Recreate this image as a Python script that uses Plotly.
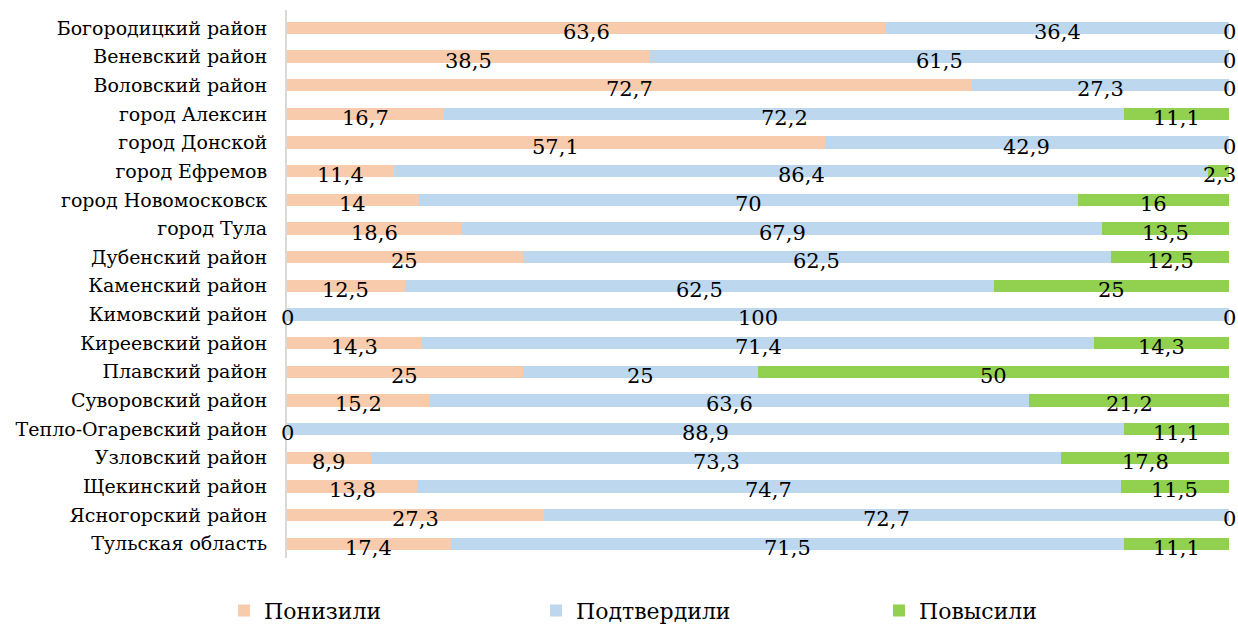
import plotly.graph_objects as go

# Доли решений по районам (%)
districts = [
    "Богородицкий район", "Веневский район", "Воловский район", "город Алексин",
    "город Донской", "город Ефремов", "город Новомосковск", "город Тула",
    "Дубенский район", "Каменский район", "Кимовский район", "Киреевский район",
    "Плавский район", "Суворовский район", "Тепло-Огаревский район",
    "Узловский район", "Щекинский район", "Ясногорский район", "Тульская область",
]
lowered = [63.6, 38.5, 72.7, 16.7, 57.1, 11.4, 14, 18.6, 25, 12.5, 0, 14.3, 25, 15.2, 0, 8.9, 13.8, 27.3, 17.4]
confirmed = [36.4, 61.5, 27.3, 72.2, 42.9, 86.4, 70, 67.9, 62.5, 62.5, 100, 71.4, 25, 63.6, 88.9, 73.3, 74.7, 72.7, 71.5]
raised = [0, 0, 0, 11.1, 0, 2.3, 16, 13.5, 12.5, 25, 0, 14.3, 50, 21.2, 11.1, 17.8, 11.5, 0, 11.1]

# название, значения, цвет, легенда, левый край элемента легенды (доля ширины окна)
series = [
    ("Понизили", lowered, "#F8CBAD", "legend2", 0.181),
    ("Подтвердили", confirmed, "#BDD7EE", "legend3", 0.433),
    ("Повысили", raised, "#92D050", "legend4", 0.710),
]

FONT = "DejaVu Serif"


def fmt(v):
    return f"{v:g}".replace(".", ",")


fig = go.Figure()
for name, vals, color, leg, _ in series:
    fig.add_trace(go.Bar(
        y=districts, x=vals, orientation="h", name=name,
        marker=dict(color=color, line=dict(width=0)),
        legend=leg, showlegend=True, hoverinfo="skip",
    ))

# Подписи значений в центре каждого сегмента
annotations = []
base = [0.0] * len(districts)
for name, vals, color, leg, _ in series:
    for i, (d, v) in enumerate(zip(districts, vals)):
        annotations.append(dict(
            x=base[i] + v / 2, y=d, text=fmt(v), showarrow=False,
            xref="x", yref="y", yshift=-4,
            font=dict(family=FONT, size=21, color="#000000"),
        ))
        base[i] += v


def legend_at(x):
    return dict(
        orientation="h", xref="container", yref="container",
        x=x, y=0.055, xanchor="left", yanchor="top",
        font=dict(family=FONT, size=22, color="#000000"),
        bgcolor="rgba(0,0,0,0)", itemwidth=30, tracegroupgap=0,
        visible=True,
    )


layout_legends = {leg: legend_at(x) for _, _, _, leg, x in series}

fig.update_layout(
    barmode="stack",
    bargap=0.57,
    width=1238, height=624,
    margin=dict(l=287, r=9, t=10, b=66, autoexpand=False),
    paper_bgcolor="white", plot_bgcolor="white",
    font=dict(family=FONT, size=19, color="#000000"),
    annotations=annotations,
    showlegend=True,
    xaxis=dict(range=[0, 100], visible=False, fixedrange=True),
    yaxis=dict(
        autorange="reversed", showgrid=False, ticks="",
        showline=True, linecolor="#D9D9D9", linewidth=2,
        ticklabelstandoff=14, automargin=False,
        tickfont=dict(family=FONT, size=19, color="#000000"),
    ),
    **layout_legends,
)

fig.write_html("out.html")
